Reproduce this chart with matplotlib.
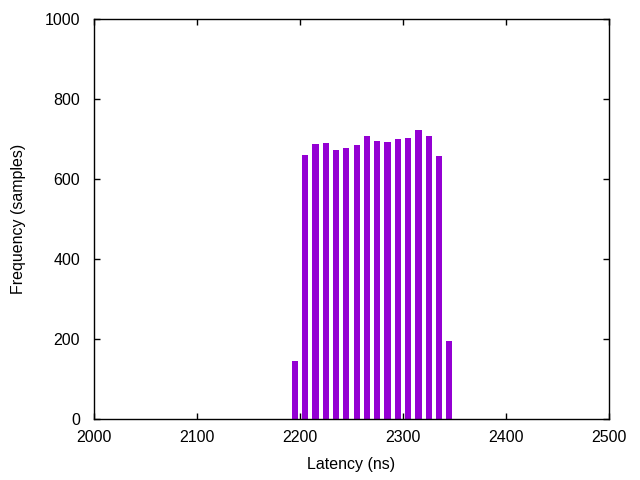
import matplotlib
matplotlib.use("Agg")
import matplotlib.pyplot as plt

latency = [2195, 2205, 2215, 2225, 2235, 2245, 2255, 2265, 2275, 2285,
           2295, 2305, 2315, 2325, 2335, 2345]
frequency = [145, 660, 688, 690, 672, 678, 685, 708, 695, 692,
             700, 703, 722, 708, 658, 195]
xticks = [2000, 2100, 2200, 2300, 2400, 2500]
yticks = [0, 200, 400, 600, 800, 1000]

plt.rcParams['font.family'] = ['Liberation Sans', 'DejaVu Sans']
plt.rcParams['font.size'] = 11.5

fig = plt.figure(figsize=(6.4, 4.8), dpi=100)
ax = fig.add_axes([94/640, 1-419/480, (609-94)/640, (419-19)/480])
ax.bar(latency, frequency, width=6, color='#9400D3', linewidth=0)
ax.set_xlim(2000, 2500)
ax.set_ylim(0, 1000)
ax.set_xticks(xticks)
ax.set_yticks(yticks)
ax.tick_params(direction='in', length=4.5, width=1, top=True, right=True,
               colors='black')
ax.tick_params(axis='x', pad=8)
ax.tick_params(axis='y', pad=10)
for s in ax.spines.values():
    s.set_linewidth(1)
ax.set_xlabel('Latency (ns)')
ax.set_ylabel('Frequency (samples)')
ax.xaxis.set_label_coords(0.5, -0.095)
ax.yaxis.set_label_coords(-0.133, 0.5)
fig.savefig('out.png', dpi=100)
